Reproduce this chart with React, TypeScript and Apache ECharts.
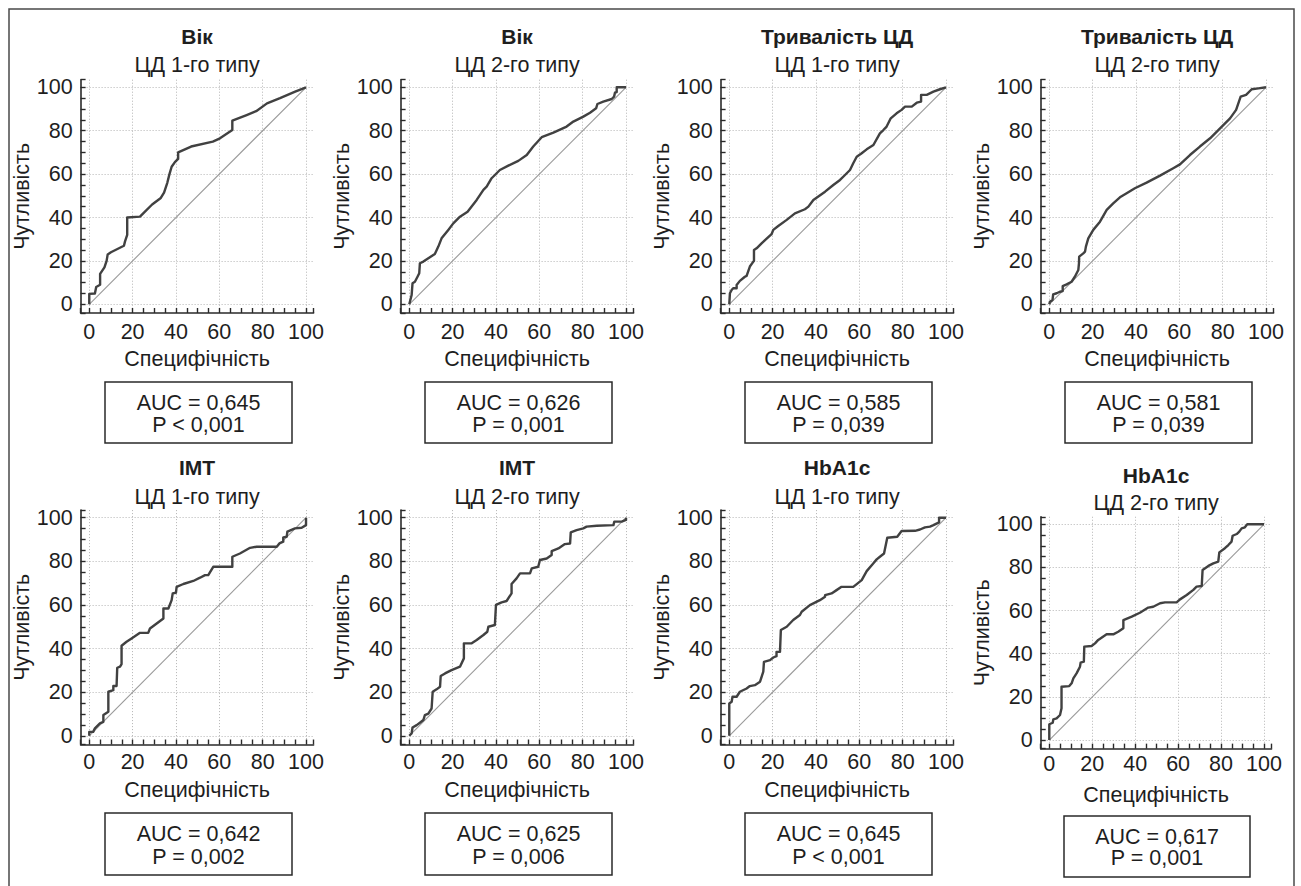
import React, { useEffect, useRef } from "react";
import * as echarts from "echarts";

// ---------- DATA ----------
const panelTitles = ["Вік", "Вік", "Тривалість ЦД", "Тривалість ЦД", "IMT", "IMT", "HbA1c", "HbA1c"];
const panelSubtitles = ["ЦД 1-го типу", "ЦД 2-го типу", "ЦД 1-го типу", "ЦД 2-го типу", "ЦД 1-го типу", "ЦД 2-го типу", "ЦД 1-го типу", "ЦД 2-го типу"];
const aucLabels = ["AUC = 0,645", "AUC = 0,626", "AUC = 0,585", "AUC = 0,581", "AUC = 0,642", "AUC = 0,625", "AUC = 0,645", "AUC = 0,617"];
const pLabels = ["P < 0,001", "P = 0,001", "P = 0,039", "P = 0,039", "P = 0,002", "P = 0,006", "P < 0,001", "P = 0,001"];
const xAxisName = "Специфічність";
const yAxisName = "Чутливість";
const tickValues = [0, 20, 40, 60, 80, 100];
const diagonal = [[0, 0], [100, 100]];

const rocAgeT1 = [[0,0],[0,4.8],[2.6,5],[3.2,8],[5,9],[5,14],[7,17],[8,20],[8.5,23],[10,24],[13,25.5],[16,27],[16.5,29],[17.5,32],[17.5,40],[23.4,40.4],[25,42],[29,46],[33,49],[34.5,51.5],[36,56],[37,60],[38,63.4],[39.5,65.5],[41,67],[41,70],[47,72.7],[57,75],[60.3,76.5],[66,80.3],[66,84.6],[72.6,87.2],[77,89],[82,92.6],[88,95],[95,98],[100,100]];
const rocAgeT2 = [[0,0],[0.3,1.2],[1.1,4.3],[1.5,9.7],[2.6,10.4],[3.8,12.7],[4.6,14.3],[4.9,18.9],[6.5,19.7],[11.8,23.2],[13.4,26.6],[14.9,30.4],[18,34.3],[20.3,37.3],[23.4,40.4],[26.9,42.7],[31.1,48.1],[34.2,52.7],[35.7,54.2],[38,58.1],[41.8,61.9],[45.7,63.9],[50.3,66.1],[54.2,68.8],[57.2,72.7],[61.1,77],[66.5,79.1],[72.6,81.9],[75.7,84.2],[80.3,86.5],[83.4,88.3],[86.2,90.3],[86.8,92.3],[89.5,93.4],[93.4,94.6],[94.5,95.7],[94.9,97.5],[95.7,97.8],[95.7,100],[100,100]];
const rocDurT1 = [[0,0],[0.3,5.1],[1.1,6.6],[1.8,7.4],[3.4,7.4],[3.4,8.9],[4.9,10.8],[7.2,12.7],[8,13.1],[9.5,17.4],[11.1,19.7],[11.4,20],[11.4,25],[12.6,25.8],[14.9,28.1],[16.5,29.6],[19.5,32.3],[20.3,34.3],[22.6,36.1],[26.5,38.9],[30.3,41.9],[34.9,43.8],[36.5,45],[38.8,48.1],[44.2,51.9],[48,55],[51.1,57.3],[53.4,59.6],[55.7,61.9],[57.2,65],[58.8,68],[61.1,69.6],[63.4,71.4],[66.5,73.4],[69.5,78.8],[71.1,80.3],[72.6,81.9],[74.5,85.7],[77.2,88],[79.5,89.6],[81.1,91.1],[84.2,91.1],[86.5,92.9],[88.5,93.4],[88.5,96.5],[91.1,96.5],[94.2,98],[97.2,99.1],[100,100]];
const rocDurT2 = [[0,0],[0.3,1.2],[1.5,2],[1.8,4.6],[3.4,5.1],[4.9,5.8],[6.2,6.1],[6.2,8.4],[8,9.2],[10.3,10.4],[11.8,12.7],[13.4,15.8],[13.7,18.9],[13.8,22],[15.7,23.5],[16.5,24.3],[16.9,26.6],[18,30.4],[20.3,34.3],[23.4,38.1],[26.5,43.5],[29.5,46.5],[32.6,49.3],[35.7,51.2],[39.5,53.5],[44.9,56.1],[51.1,59.3],[57.2,62.7],[60.3,64.5],[64.9,68.8],[69.5,72.7],[74.2,76.5],[78.8,81.1],[83.4,85.7],[86.2,89.6],[88.3,95.7],[90.8,96.5],[93.4,99.1],[96.5,99.5],[100,100]];
const rocImtT1 = [[0,0],[0,1.8],[1.8,1.8],[2.6,3.4],[4.9,5.7],[6.5,6.4],[6.5,9.5],[8.8,11],[8.8,20.2],[11.1,20.9],[11.1,22.8],[12.6,22.8],[12.9,31.2],[14.2,31.7],[14.9,32.9],[14.9,41.3],[17.2,43.1],[19.5,44.6],[23.4,47.2],[27.2,47.2],[28,49.2],[31.1,51.5],[34.2,53.8],[34.2,58.4],[36.5,58.4],[38,62.2],[38.5,65.3],[40,65.6],[40.3,68.3],[43.4,69.6],[48,71],[51.1,72.5],[53.4,73.7],[54.9,73.7],[57.2,77.5],[66,77.5],[66,82.1],[69.5,83.6],[74.2,86.2],[77.2,86.7],[86.5,86.7],[87.7,88.2],[89.5,89],[89.5,91],[91.1,91.3],[91.4,93.6],[94.9,95.1],[98,95.4],[100,96.6],[100,100]];
const rocImtT2 = [[0,0],[1.1,1.1],[1.5,3.8],[3.4,4.9],[4.9,6],[6.5,7.2],[7.2,9.5],[8.8,10.2],[10.3,12.5],[10.8,20.2],[12.6,21.3],[14.2,22.5],[14.5,27.4],[16.5,28.6],[19.5,30.1],[23.4,31.7],[25.2,35.5],[25.2,42.4],[28.8,42.4],[31.1,43.9],[34.2,46.2],[36,47.7],[36.5,50],[39.5,50.8],[40,60],[42.6,61.2],[44.9,61.8],[47.2,65.3],[47.2,69.6],[49.5,72.2],[51.1,74.5],[55.7,74.5],[56.5,76.8],[59.5,77.5],[60.3,80.6],[63.4,81.3],[65.7,82.9],[65.7,84.7],[68.8,85.9],[71.8,87.9],[74.2,88.2],[74.5,93.3],[77.2,94.3],[80.3,95.1],[81.8,95.9],[86.5,96.3],[94.2,96.6],[94.6,98.2],[98,98.2],[100,99],[100,100]];
const rocHbT1 = [[0,0],[0,14.8],[1.1,15.6],[1.5,17.9],[3.4,17.9],[4.9,20.2],[8,21.7],[9.5,22.8],[11.8,23.2],[14.2,24.8],[15.7,29.4],[16,33.9],[18.8,34.7],[20.3,35.9],[21.8,36.5],[21.8,38.5],[23.4,38.5],[23.8,48.5],[26.5,50],[29.5,53.1],[32.6,55.4],[33.4,56.9],[37.2,59.9],[41.8,62.2],[44.2,63.8],[44.2,64.5],[47.2,65.3],[49.5,66.8],[51.8,68.3],[57.2,68.3],[61.1,71.4],[63.4,75.5],[66.5,79.1],[68,80.9],[69.5,82.1],[71.4,83.6],[72.9,90.8],[77.5,91.3],[79.5,93.9],[85.7,94],[88,94.6],[90.3,95.6],[92.6,95.9],[94.2,96.6],[96.8,97.9],[96.8,100],[100,100]];
const rocHbT2 = [[0,0],[0,7.3],[1.6,8],[1.9,9.6],[3.4,10],[5,11.6],[5.7,14.7],[5.7,24.7],[9.3,25],[10.4,26.3],[11.2,28.6],[12.7,30.9],[14.3,34],[14.6,35.9],[16.1,36.3],[16.3,43.3],[19.7,43.6],[21.3,44.8],[22.8,46.4],[26.7,49],[29.8,49],[32.1,50.2],[34.5,51.8],[34.5,55.6],[38.4,57.2],[42.2,59],[46.1,61.4],[48.4,61.8],[51.6,63.4],[53.9,63.8],[59.3,63.8],[60.9,65.2],[64,67.2],[67.1,69.6],[68.6,71.1],[71,71.4],[71.4,78.8],[74.1,80.7],[76.4,81.9],[78.7,82.7],[79.2,87],[81.8,88.9],[83.4,90.4],[84.9,92],[85.4,94.7],[87.3,95.5],[88.5,96.6],[89.6,98.1],[91.1,98.6],[92.2,100],[100,100]];

const rocCurves = [rocAgeT1, rocAgeT2, rocDurT1, rocDurT2, rocImtT1, rocImtT2, rocHbT1, rocHbT2];

// ---------- LAYOUT ----------
const FONT = "'Liberation Sans', Arial, Helvetica, sans-serif";
const TEXT_COLOR = "#1e1e1e";
const LABEL_SIZE = 21.5;
const AXIS_MIN = -4;
const AXIS_MAX = 103.5;

function panelLayout(i: number) {
  const row = Math.floor(i / 4);
  const col = i % 4;
  if (row === 0) {
    return { left: 80.6 + col * 320, top: 79.7, width: 233, height: 233.3, titleY: 36, subY: 65,
      boxX: 105 + col * 320, boxY: 382, boxW: 187, boxH: 61, aucY: 403, pY: 425, labelMargin: 8, nameGap: 35 };
  }
  if (col < 3) {
    return { left: 80.6 + col * 320, top: 510.1, width: 233, height: 234.4, titleY: 467, subY: 497,
      boxX: 105 + col * 320, boxY: 813, boxW: 187, boxH: 62, aucY: 834, pY: 857, labelMargin: 6, nameGap: 34 };
  }
  return { left: 1040.7, top: 516.75, width: 230.8, height: 231.9, titleY: 475, subY: 503,
    boxX: 1064, boxY: 816, boxW: 186, boxH: 61, aucY: 836.5, pY: 858, labelMargin: 4, nameGap: 35 };
}

function tickFormatter(v: number) {
  const r = Math.round(v);
  return tickValues.indexOf(r) >= 0 && Math.abs(v - r) < 1e-6 ? String(r) : "";
}

function axisCommon(i: number, isX: boolean) {
  const L = panelLayout(i);
  return {
    gridIndex: i,
    type: "value",
    min: AXIS_MIN,
    max: AXIS_MAX,
    minInterval: 20,
    maxInterval: 20,
    splitNumber: 5,
    name: isX ? xAxisName : yAxisName,
    nameLocation: "middle",
    nameGap: isX ? L.nameGap : 44,
    nameTextStyle: { fontFamily: FONT, fontSize: LABEL_SIZE, color: TEXT_COLOR },
    axisLine: { show: true, onZero: false, lineStyle: { color: "#2a2a2a", width: 1.6 } },
    axisTick: { show: true, inside: true, length: 5, lineStyle: { color: "#2a2a2a", width: 1.4 } },
    minorTick: { show: true, splitNumber: 4, length: 5, lineStyle: { color: "#2a2a2a", width: 1.4 } },
    axisLabel: {
      show: true,
      margin: isX ? L.labelMargin : 8,
      fontFamily: FONT,
      fontSize: LABEL_SIZE,
      color: TEXT_COLOR,
      showMinLabel: false,
      showMaxLabel: false,
      formatter: tickFormatter,
    },
    splitLine: {
      show: true,
      showMinLine: false,
      showMaxLine: false,
      lineStyle: { color: "#b4b4b4", type: [1, 2], width: 1 },
    },
    minorSplitLine: { show: false },
  };
}

export default function App() {
  const ref = useRef<HTMLDivElement>(null);

  useEffect(() => {
    document.body.style.margin = "0";
    if (!ref.current) return;
    const chart = echarts.init(ref.current, null, { renderer: "svg" });

    const grids: any[] = [];
    const xAxes: any[] = [];
    const yAxes: any[] = [];
    const series: any[] = [];
    const graphics: any[] = [];

    graphics.push({
      type: "rect",
      shape: { x: 9, y: 9, width: 1285, height: 895 },
      style: { fill: "none", stroke: "#4a4a4a", lineWidth: 1.5 },
      silent: true,
    });

    for (let i = 0; i < 8; i++) {
      const L = panelLayout(i);
      grids.push({ left: L.left, top: L.top, width: L.width, height: L.height, containLabel: false, outerBoundsMode: "none" });
      xAxes.push(axisCommon(i, true));
      yAxes.push(axisCommon(i, false));
      series.push({
        type: "line",
        xAxisIndex: i,
        yAxisIndex: i,
        data: diagonal,
        showSymbol: false,
        symbol: "none",
        silent: true,
        lineStyle: { color: "#999999", width: 1.1 },
        z: 2,
      });
      series.push({
        type: "line",
        xAxisIndex: i,
        yAxisIndex: i,
        data: rocCurves[i],
        showSymbol: false,
        symbol: "none",
        silent: true,
        clip: false,
        lineStyle: { color: "#414141", width: 2.4, join: "round" },
        z: 3,
      });
      const cx = L.left + L.width / 2;
      graphics.push({
        type: "text",
        style: { text: panelTitles[i], x: cx, y: L.titleY, align: "center", verticalAlign: "middle",
          fontFamily: FONT, fontSize: 21, fontWeight: "bold", fill: TEXT_COLOR },
        silent: true,
      });
      graphics.push({
        type: "text",
        style: { text: panelSubtitles[i], x: cx, y: L.subY, align: "center", verticalAlign: "middle",
          fontFamily: FONT, fontSize: LABEL_SIZE, fill: TEXT_COLOR },
        silent: true,
      });
      graphics.push({
        type: "rect",
        shape: { x: L.boxX, y: L.boxY, width: L.boxW, height: L.boxH },
        style: { fill: "#ffffff", stroke: "#2a2a2a", lineWidth: 1.5 },
        silent: true,
      });
      const bx = L.boxX + L.boxW / 2;
      graphics.push({
        type: "text",
        style: { text: aucLabels[i], x: bx, y: L.aucY, align: "center", verticalAlign: "middle",
          fontFamily: FONT, fontSize: LABEL_SIZE, fill: TEXT_COLOR },
        silent: true,
      });
      graphics.push({
        type: "text",
        style: { text: pLabels[i], x: bx, y: L.pY, align: "center", verticalAlign: "middle",
          fontFamily: FONT, fontSize: LABEL_SIZE, fill: TEXT_COLOR },
        silent: true,
      });
    }

    chart.setOption({
      animation: false,
      backgroundColor: "#ffffff",
      textStyle: { fontFamily: FONT },
      grid: grids,
      xAxis: xAxes,
      yAxis: yAxes,
      series,
      graphic: graphics,
    });

    return () => {
      chart.dispose();
    };
  }, []);

  return <div ref={ref} style={{ width: 1301, height: 886 }} />;
}
